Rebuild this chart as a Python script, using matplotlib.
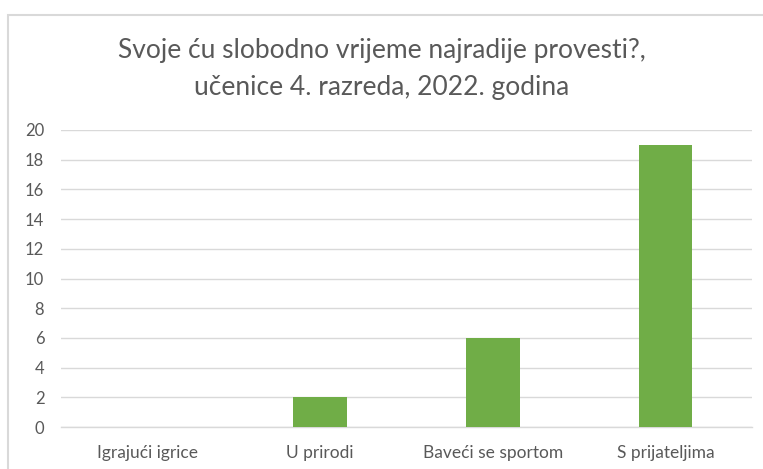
import matplotlib
matplotlib.use("Agg")
import matplotlib.pyplot as plt
from matplotlib.patches import Rectangle

categories = ["Igrajući igrice", "U prirodi", "Baveći se sportom", "S prijateljima"]
values = [0, 2, 6, 19]
yticks = [0, 2, 4, 6, 8, 10, 12, 14, 16, 18, 20]
title = "Svoje ću slobodno vrijeme najradije provesti?,\nučenice 4. razreda, 2022. godina"

plt.rcParams['font.family'] = ['Lato', 'DejaVu Sans']
text_color = "#595959"
grid_color = "#D9D9D9"
bar_color = "#70AD47"

fig = plt.figure(figsize=(7.63, 4.69), dpi=100)
fig.patch.set_facecolor("white")
# chart border
fig.patches.append(Rectangle((8/763, -0.05), 2, 1.0 - 15/469 + 0.05, transform=fig.transFigure,
                             fill=False, edgecolor=grid_color, linewidth=1.5))

ax = fig.add_axes([61/763, 42/469, (752-61)/763, (427-130)/469])
x = range(len(categories))
ax.bar(x, values, width=0.31, color=bar_color, zorder=3)
ax.set_xlim(-0.5, len(categories) - 0.5)
ax.set_ylim(0, 20)
ax.set_yticks(yticks)
ax.set_xticks(list(x))
ax.set_xticklabels(categories)
ax.yaxis.grid(True, color=grid_color, linewidth=1)
ax.set_axisbelow(True)
for s in ["top", "right", "left"]:
    ax.spines[s].set_visible(False)
ax.spines["bottom"].set_color(grid_color)
ax.spines["bottom"].set_linewidth(1)
ax.tick_params(axis="y", length=0, colors=text_color, labelsize=12, pad=12)
ax.tick_params(axis="x", length=0, colors=text_color, labelsize=12.5, pad=13)

fig.text(0.5, 1 - 69/469, title, ha="center", va="center", fontsize=19,
         color=text_color, linespacing=1.6)

fig.savefig("out.png", dpi=100)
